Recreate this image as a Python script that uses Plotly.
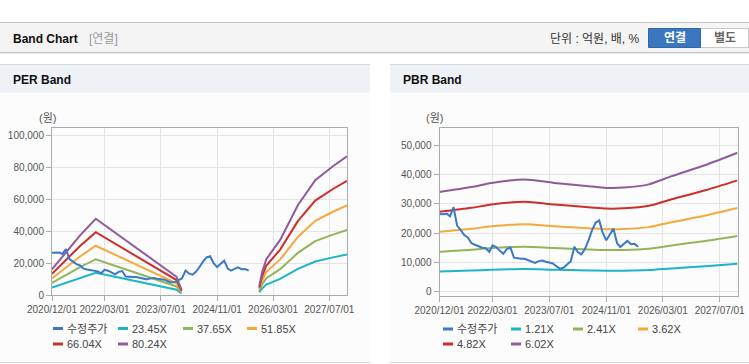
import plotly.graph_objects as go

# ---------------- data ----------------
price_dates = [
    "2020-12-01", "2021-01-01", "2021-02-01", "2021-03-01", "2021-04-01", "2021-05-01",
    "2021-06-01", "2021-07-01", "2021-08-01", "2021-09-01", "2021-10-01", "2021-11-01",
    "2021-12-01", "2022-01-01", "2022-02-01", "2022-03-01", "2022-04-01", "2022-05-01",
    "2022-06-01", "2022-07-01", "2022-08-01", "2022-09-01", "2022-10-01", "2022-11-01",
    "2022-12-01", "2023-01-01", "2023-02-01", "2023-03-01", "2023-04-01", "2023-05-01",
    "2023-06-01", "2023-07-01", "2023-08-01", "2023-09-01", "2023-10-01", "2023-11-01",
    "2023-12-01", "2024-01-01", "2024-02-01", "2024-03-01", "2024-04-01", "2024-05-01",
    "2024-06-01", "2024-07-01", "2024-08-01", "2024-09-01", "2024-10-01", "2024-11-01",
    "2024-12-01", "2025-01-01", "2025-02-01", "2025-03-01", "2025-04-01", "2025-05-01",
    "2025-06-01", "2025-07-01", "2025-08-01",
]
price = [
    26500, 26400, 26600, 25700, 28800, 22500,
    21000, 19300, 18500, 16500, 16000, 15500,
    15000, 14800, 13600, 15800, 15200, 14000,
    12900, 14500, 15000, 11600, 11300, 11200,
    11200, 10800, 10300, 9800, 10400, 10600,
    10200, 9800, 9600, 8600, 7800, 8200,
    9400, 10400, 15300, 13500, 12700, 14500,
    17500, 20900, 23500, 24300, 20000, 17500,
    19500, 21500, 16500, 15200, 16300, 17300,
    16200, 16300, 15300,
]

# PER band (None = gap)
per_dates = [
    "2020-12-01", "2021-04-01", "2021-08-01", "2021-12-15", "2022-07-01", "2023-01-01",
    "2023-07-01", "2023-11-15", "2023-12-28", "2024-06-01",
    "2025-11-01", "2025-11-25", "2026-01-01", "2026-05-01", "2026-10-01", "2027-03-01",
    "2027-08-01", "2027-12-01",
]
per_names = ["23.45X", "37.65X", "51.85X", "66.04X", "80.24X"]
per_2345 = [4690, 7739, 10904, 13953, 10951, 8184, 5417, 3330, 938, None,
            1642, 4104, 6563, 10084, 16415, 20988, 23567, 25373]
per_3765 = [7530, 12425, 17507, 22402, 17583, 13140, 8697, 5346, 1506, None,
            2636, 6589, 10543, 16190, 26355, 33697, 37838, 40737]
per_5185 = [10370, 17111, 24110, 30851, 24214, 18096, 11977, 7363, 2074, None,
            3630, 9074, 14518, 22296, 36295, 46406, 52109, 56102]
per_6604 = [13208, 21793, 30709, 39294, 30841, 23048, 15255, 9378, 2642, None,
            4623, 11557, 18491, 28397, 46228, 59106, 66370, 71455]
per_8024 = [16048, 26479, 37312, 47743, 37472, 28004, 18535, 11394, 3210, None,
            5617, 14042, 22467, 34503, 56168, 71815, 80641, 86820]

# PBR band
pbr_dates = [
    "2020-12-01", "2021-09-01", "2022-02-20", "2022-12-01", "2023-08-15", "2024-06-01",
    "2024-11-01", "2025-04-01", "2025-11-01", "2026-05-15", "2027-03-01", "2027-12-01",
]
pbr_names = ["1.21X", "2.41X", "3.62X", "4.82X", "6.02X"]
pbr_121 = [6837, 7175, 7457, 7698, 7457, 7236, 7115, 7139, 7357, 7919, 8683, 9528]
pbr_241 = [13617, 14291, 14853, 15332, 14853, 14412, 14171, 14219, 14653, 15773, 17294, 18976]
pbr_362 = [20453, 21467, 22310, 23030, 22310, 21648, 21286, 21358, 22010, 23693, 25977, 28504]
pbr_482 = [27233, 28583, 29706, 30665, 29706, 28824, 28342, 28438, 29306, 31547, 34588, 37953]
pbr_602 = [34013, 35699, 37101, 38299, 37101, 36000, 35398, 35518, 36602, 39401, 43200, 47401]

x_tick_vals = ["2020-12-01", "2022-03-01", "2023-07-01", "2024-11-01", "2026-03-01", "2027-07-01"]
x_tick_text = ["2020/12/01", "2022/03/01", "2023/07/01", "2024/11/01", "2026/03/01", "2027/07/01"]
x_range = ["2020-12-01", "2027-12-01"]
per_y_ticks = [0, 20000, 40000, 60000, 80000, 100000]
pbr_y_ticks = [0, 10000, 20000, 30000, 40000, 50000]
price_name = "수정주가"

# ---------------- styles ----------------
W, H = 749, 364
FONT = "Liberation Sans, Noto Sans CJK KR, sans-serif"
C_PRICE = "#3b78c8"
band_colors = ["#1db4c8", "#92b558", "#f4a93d", "#cc2f2a", "#8f5a9c"]


def px(x):
    return x / W


def py(y):
    return 1 - y / H


fig = go.Figure()

for nm, vals, col in zip(per_names, [per_2345, per_3765, per_5185, per_6604, per_8024], band_colors):
    fig.add_trace(go.Scatter(x=per_dates, y=vals, name=nm, mode="lines",
                             line=dict(color=col, width=2), xaxis="x", yaxis="y",
                             showlegend=False))
fig.add_trace(go.Scatter(x=price_dates, y=price, name=price_name, mode="lines",
                         line=dict(color=C_PRICE, width=2), xaxis="x", yaxis="y",
                         showlegend=False))

for nm, vals, col in zip(pbr_names, [pbr_121, pbr_241, pbr_362, pbr_482, pbr_602], band_colors):
    fig.add_trace(go.Scatter(x=pbr_dates, y=vals, name=nm, mode="lines",
                             line=dict(color=col, width=2, shape="spline", smoothing=0.8),
                             xaxis="x2", yaxis="y2", showlegend=False))
fig.add_trace(go.Scatter(x=price_dates, y=price, name=price_name, mode="lines",
                         line=dict(color=C_PRICE, width=2), xaxis="x2", yaxis="y2",
                         showlegend=False))

shapes = []
annotations = []

# top bar
shapes.append(dict(type="rect", xref="paper", yref="paper", x0=0, x1=1, y0=py(52.5), y1=py(22.5),
                   fillcolor="#f4f4f4", line=dict(width=0), layer="below"))
shapes.append(dict(type="line", xref="paper", yref="paper", x0=0, x1=1, y0=py(22.5), y1=py(22.5),
                   line=dict(color="#c2c2c2", width=1), layer="below"))
shapes.append(dict(type="line", xref="paper", yref="paper", x0=0, x1=1, y0=py(52.5), y1=py(52.5),
                   line=dict(color="#c4c4c4", width=1), layer="below"))
shapes.append(dict(type="line", xref="paper", yref="paper", x0=0, x1=1, y0=py(53.5), y1=py(53.5),
                   line=dict(color="#e6e6e6", width=1), layer="below"))
annotations.append(dict(text="<b>Band Chart</b>", xref="paper", yref="paper", x=px(11), y=py(39),
                        xanchor="left", yanchor="middle", showarrow=False,
                        font=dict(family=FONT, size=12, color="#111")))
annotations.append(dict(text="[연결]", xref="paper", yref="paper", x=px(87), y=py(39),
                        xanchor="left", yanchor="middle", showarrow=False,
                        font=dict(family=FONT, size=12, color="#9a9a9a")))
annotations.append(dict(text="단위 : 억원, 배, %", xref="paper", yref="paper", x=px(642), y=py(39),
                        xanchor="right", yanchor="middle", showarrow=False,
                        font=dict(family=FONT, size=12, color="#333")))
# buttons
shapes.append(dict(type="rect", xref="paper", yref="paper", x0=px(700), x1=px(748.5), y0=py(47.5), y1=py(28.5),
                   fillcolor="#ffffff", line=dict(color="#c8c8c8", width=1), layer="below"))
shapes.append(dict(type="rect", xref="paper", yref="paper", x0=px(648.5), x1=px(700.5), y0=py(47.5), y1=py(28.5),
                   fillcolor="#3a77be", line=dict(color="#2f67a8", width=1), layer="below"))
annotations.append(dict(text="<b>연결</b>", xref="paper", yref="paper", x=px(674.5), y=py(38.5),
                        xanchor="center", yanchor="middle", showarrow=False,
                        font=dict(family=FONT, size=12, color="#ffffff")))
annotations.append(dict(text="<b>별도</b>", xref="paper", yref="paper", x=px(724.5), y=py(38.5),
                        xanchor="center", yanchor="middle", showarrow=False,
                        font=dict(family=FONT, size=12, color="#666666")))

# panels
for (x0, x1, title, unit_x) in [(0, 370, "PER Band", 47), (390, 749, "PBR Band", 434.5)]:
    shapes.append(dict(type="rect", xref="paper", yref="paper", x0=px(x0), x1=px(x1), y0=py(362), y1=py(92.5),
                       fillcolor="#fcfcfc", line=dict(width=0), layer="below"))
    shapes.append(dict(type="rect", xref="paper", yref="paper", x0=px(x0), x1=px(x1), y0=py(92.5), y1=py(64.5),
                       fillcolor="#eef2f7", line=dict(width=0), layer="below"))
    shapes.append(dict(type="line", xref="paper", yref="paper", x0=px(x0), x1=px(x1), y0=py(64.5), y1=py(64.5),
                       line=dict(color="#d9d9d9", width=1), layer="below"))
    shapes.append(dict(type="line", xref="paper", yref="paper", x0=px(x0), x1=px(x1), y0=py(362.5), y1=py(362.5),
                       line=dict(color="#d4d4d4", width=1), layer="below"))
    annotations.append(dict(text="<b>" + title + "</b>", xref="paper", yref="paper", x=px(x0 + 11), y=py(80),
                            xanchor="left", yanchor="middle", showarrow=False,
                            font=dict(family=FONT, size=12, color="#111")))
    annotations.append(dict(text="(원)", xref="paper", yref="paper", x=px(unit_x), y=py(118),
                            xanchor="center", yanchor="middle", showarrow=False,
                            font=dict(family=FONT, size=11, color="#555")))

# manual legends
legend_names = [price_name] + per_names
legend_cols = [C_PRICE] + band_colors
left_pos = [(53, 328.5), (118, 328.5), (183, 328.5), (247, 328.5), (53, 344), (118, 344)]
pbr_legend_names = [price_name] + pbr_names
right_pos = [(443, 329), (511, 329), (573, 329), (638, 329), (443, 344), (511, 344)]
for names, positions in [(legend_names, left_pos), (pbr_legend_names, right_pos)]:
    for nm, col, (lx, ly) in zip(names, legend_cols, positions):
        shapes.append(dict(type="line", xref="paper", yref="paper", x0=px(lx), x1=px(lx + 10),
                           y0=py(ly), y1=py(ly), line=dict(color=col, width=3)))
        annotations.append(dict(text=nm, xref="paper", yref="paper", x=px(lx + 12), y=py(ly),
                                xanchor="left", yanchor="middle", showarrow=False,
                                font=dict(family=FONT, size=11, color="#444")))

axis_common = dict(showline=True, linecolor="#ababab", linewidth=1, mirror=True,
                   showgrid=True, gridcolor="#e4e4e4", gridwidth=1, zeroline=False,
                   ticks="outside", ticklen=5, tickcolor="#ababab", automargin=False,
                   tickfont=dict(family=FONT, size=10, color="#555"))

fig.update_layout(
    width=W, height=H, autosize=False,
    margin=dict(l=0, r=0, t=0, b=0, pad=0, autoexpand=False),
    paper_bgcolor="#ffffff", plot_bgcolor="rgba(0,0,0,0)",
    showlegend=False,
    shapes=shapes, annotations=annotations,
    xaxis=dict(domain=[px(52), px(347)], type="date", range=x_range, tickvals=x_tick_vals,
               ticktext=x_tick_text, tickangle=0, anchor="y", **axis_common),
    yaxis=dict(domain=[py(295), py(128)], range=[0, 104560], tickvals=per_y_ticks,
               tickformat=",", anchor="x", **axis_common),
    xaxis2=dict(domain=[px(439.5), px(737.5)], type="date", range=x_range, tickvals=x_tick_vals,
                ticktext=x_tick_text, tickangle=0, anchor="y2", **axis_common),
    yaxis2=dict(domain=[py(295.5), py(128)], range=[-1330, 55840], tickvals=pbr_y_ticks,
                tickformat=",", anchor="x2", **axis_common),
)

PAGE_FIX = (
    "var st=document.createElement('style');"
    "st.textContent='html,body{margin:0!important;padding:0!important;overflow:hidden;}';"
    "document.head.appendChild(st);"
)

fig.write_html("out.html", config={"displayModeBar": False}, post_script=PAGE_FIX)
